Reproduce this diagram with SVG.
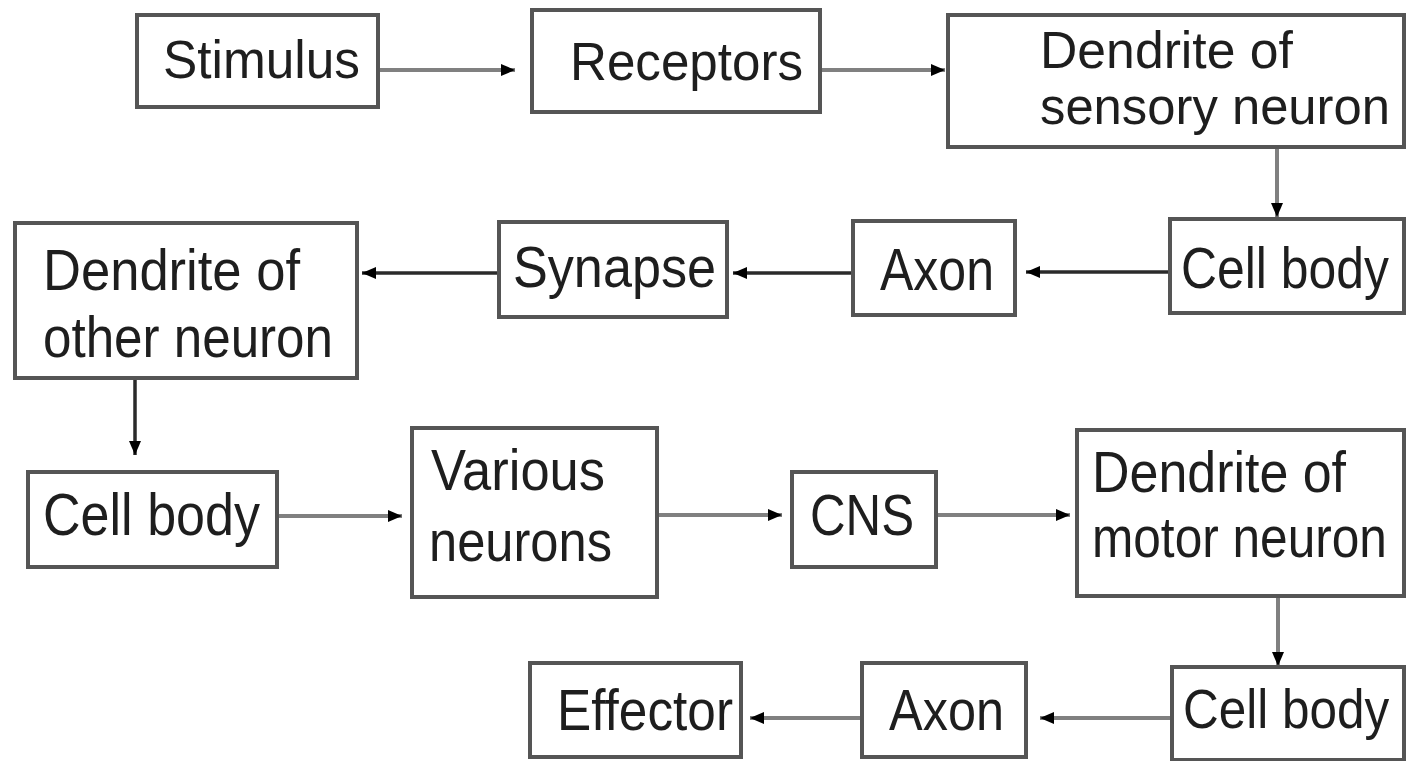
<svg xmlns="http://www.w3.org/2000/svg" width="1407" height="761" viewBox="0 0 1407 761">
<defs>
<style>
.box{fill:#fff;stroke:#555;stroke-width:4}
.lbl{font-family:"Liberation Sans",Arial,sans-serif;fill:#1e1e1e}
.ln{fill:none;stroke:#808080;stroke-width:4}
.dk{stroke:#2a2a2a;stroke-width:3.5}
</style>
<marker id="ah" markerUnits="userSpaceOnUse" viewBox="0 0 14 12" refX="14" refY="6" markerWidth="14" markerHeight="12" orient="auto">
<path d="M0,0 L14,6 L0,12 z" fill="#000"/>
</marker>
</defs>
<rect width="1407" height="761" fill="#fff"/>
<g id="connectors">
<line class="ln" x1="378" y1="70" x2="515" y2="70" marker-end="url(#ah)"/>
<line class="ln" x1="820" y1="70" x2="945" y2="70" marker-end="url(#ah)"/>
<line class="ln" x1="1277" y1="147" x2="1277" y2="217" marker-end="url(#ah)"/>
<line class="ln dk" x1="1170" y1="272" x2="1026" y2="272" marker-end="url(#ah)"/>
<line class="ln dk" x1="853" y1="273" x2="733" y2="273" marker-end="url(#ah)"/>
<line class="ln dk" x1="499" y1="273" x2="362" y2="273" marker-end="url(#ah)"/>
<line class="ln dk" x1="135" y1="378" x2="135" y2="455" marker-end="url(#ah)"/>
<line class="ln" x1="277" y1="516" x2="402" y2="516" marker-end="url(#ah)"/>
<line class="ln" x1="657" y1="515" x2="782" y2="515" marker-end="url(#ah)"/>
<line class="ln" x1="936" y1="515" x2="1070" y2="515" marker-end="url(#ah)"/>
<line class="ln" x1="1278" y1="596" x2="1278" y2="666" marker-end="url(#ah)"/>
<line class="ln" x1="1172" y1="718" x2="1040" y2="718" marker-end="url(#ah)"/>
<line class="ln" x1="862" y1="718" x2="750" y2="718" marker-end="url(#ah)"/>
</g>
<g id="stimulus"><rect class="box" x="137" y="15" width="241" height="92"/><text class="lbl" x="163" y="78" font-size="53" textLength="197" lengthAdjust="spacingAndGlyphs">Stimulus</text></g>
<g id="receptors"><rect class="box" x="532" y="10" width="288" height="102"/><text class="lbl" x="570" y="80" font-size="53" textLength="233" lengthAdjust="spacingAndGlyphs">Receptors</text></g>
<g id="dendrite-sensory"><rect class="box" x="948" y="15" width="456" height="132"/><text class="lbl" x="1040" y="68" font-size="52" textLength="253" lengthAdjust="spacingAndGlyphs">Dendrite of</text><text class="lbl" x="1040" y="124" font-size="52" textLength="350" lengthAdjust="spacingAndGlyphs">sensory neuron</text></g>
<g id="cellbody-1"><rect class="box" x="1170" y="219" width="234" height="94"/><text class="lbl" transform="translate(1181,288) scale(0.86,1)" x="0" y="0" font-size="58">Cell body</text></g>
<g id="axon-1"><rect class="box" x="853" y="221" width="162" height="94"/><text class="lbl" x="880" y="290" font-size="60" textLength="114" lengthAdjust="spacingAndGlyphs">Axon</text></g>
<g id="synapse"><rect class="box" x="499" y="222" width="228" height="95"/><text class="lbl" x="513" y="287" font-size="58" textLength="203" lengthAdjust="spacingAndGlyphs">Synapse</text></g>
<g id="dendrite-other"><rect class="box" x="15" y="223" width="342" height="155"/><text class="lbl" x="43" y="290" font-size="57" textLength="257" lengthAdjust="spacingAndGlyphs">Dendrite of</text><text class="lbl" x="43" y="357" font-size="57" textLength="290" lengthAdjust="spacingAndGlyphs">other neuron</text></g>
<g id="cellbody-2"><rect class="box" x="28" y="472" width="249" height="95"/><text class="lbl" x="43" y="535" font-size="59" textLength="217" lengthAdjust="spacingAndGlyphs">Cell body</text></g>
<g id="various"><rect class="box" x="412" y="428" width="245" height="169"/><text class="lbl" x="431" y="490" font-size="58" textLength="174" lengthAdjust="spacingAndGlyphs">Various</text><text class="lbl" x="429" y="561" font-size="58" textLength="183" lengthAdjust="spacingAndGlyphs">neurons</text></g>
<g id="cns"><rect class="box" x="792" y="472" width="144" height="95"/><text class="lbl" x="810" y="535" font-size="58" textLength="104" lengthAdjust="spacingAndGlyphs">CNS</text></g>
<g id="dendrite-motor"><rect class="box" x="1077" y="430" width="327" height="166"/><text class="lbl" x="1092" y="492" font-size="58" textLength="254" lengthAdjust="spacingAndGlyphs">Dendrite of</text><text class="lbl" transform="translate(1092,557) scale(0.87,1)" x="0" y="0" font-size="57">motor neuron</text></g>
<g id="cellbody-3"><rect class="box" x="1172" y="667" width="232" height="93"/><text class="lbl" transform="translate(1183,728) scale(0.883,1)" x="0" y="0" font-size="56">Cell body</text></g>
<g id="axon-2"><rect class="box" x="862" y="663" width="164" height="94"/><text class="lbl" x="889" y="730" font-size="57" textLength="115" lengthAdjust="spacingAndGlyphs">Axon</text></g>
<g id="effector"><rect class="box" x="530" y="663" width="211" height="94"/><text class="lbl" x="557" y="730" font-size="57" textLength="176" lengthAdjust="spacingAndGlyphs">Effector</text></g>
</svg>
